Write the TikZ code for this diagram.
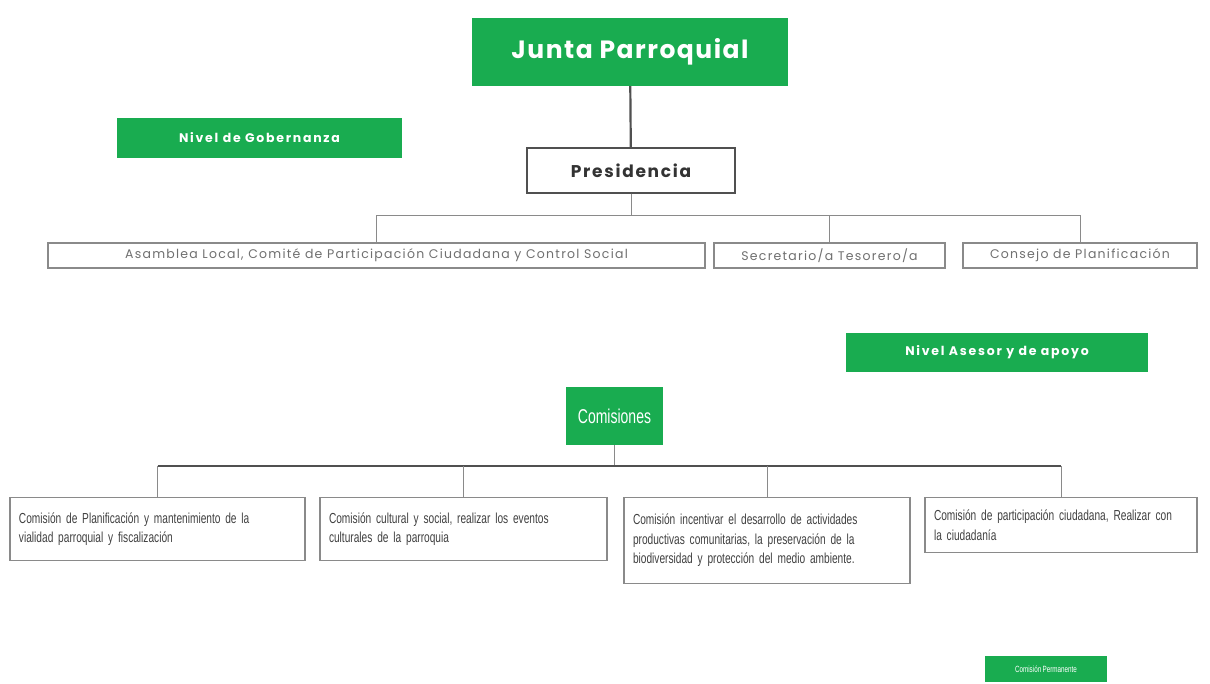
\documentclass[tikz,border=0pt]{standalone}
\usepackage{fontspec}
\setmainfont{Liberation Sans}
\newfontfamily\titlefont[LetterSpace=6]{Poppins}
\newfontfamily\levelfont[LetterSpace=14]{Poppins}
\newfontfamily\govfont[LetterSpace=10]{Poppins}
\newfontfamily\narrowfont[FakeStretch=0.7,WordSpace=0.8]{Liberation Sans}
\usepackage{xcolor}
\definecolor{cGreen}{HTML}{19AC50}
\definecolor{cLine}{HTML}{505050}
\definecolor{cGray}{HTML}{8A8A8A}
\definecolor{cText}{HTML}{707070}
\usetikzlibrary{positioning}
\tikzset{
  x=1pt,y=-1pt,
  node-green/.style={fill=cGreen,draw=none,text=white,align=center,inner sep=0pt},
  node-head/.style={node-green,font=\titlefont\fontsize{25}{30}\selectfont\bfseries},
  node-level/.style={node-green,font=\levelfont\fontsize{12.5}{15}\selectfont\bfseries},
  node-pres/.style={draw=cLine,line width=1.4pt,fill=white,inner sep=0pt,
    font=\govfont\fontsize{17}{20}\selectfont\bfseries,text=black!80},
  node-gov/.style={draw=cGray,line width=1.2pt,fill=white,inner sep=0pt,
    font=\govfont\fontsize{12.5}{15}\selectfont,text=cText},
  node-com/.style={draw=cGray,line width=1.2pt,fill=white,anchor=north,
    align=left,inner xsep=9pt,inner ysep=6pt,
    font={\narrowfont\fontsize{14.5}{19.5}\selectfont\hyphenpenalty=10000\relax},text=black!75},
  link/.style={draw=cLine,line width=2.2pt},
  link-thin/.style={draw=cGray,line width=1pt},
  link-bus/.style={draw=cLine,line width=2.4pt},
}
\begin{document}
\begin{tikzpicture}
  \useasboundingbox (0,0) rectangle (1210,684);
  % nivel de gobernanza
  \node[node-head,minimum width=316,minimum height=68] (junta) at (630,52) {Junta Parroquial};
  \node[node-level,minimum width=285,minimum height=40] (gob) at (259.5,138) {Nivel de Gobernanza};
  \node[node-pres,minimum width=208,minimum height=45] (pres) at (631,170.5) {Presidencia};
  \node[node-gov,minimum width=657,minimum height=25] (asam) at (376.5,255.5) {Asamblea Local, Comité de Participación Ciudadana y Control Social};
  \node[node-gov,minimum width=231,minimum height=25] (secr) at (829.5,255.5) {Secretario/a Tesorero/a};
  \node[node-gov,minimum width=234,minimum height=25] (cons) at (1080,255.5) {Consejo de Planificación};
  \draw[link] (junta) -- (pres);
  \draw[link-thin] (pres.south) -- ++(0,22) -| (asam.north);
  \draw[link-thin] (pres.south) -- ++(0,22) -| (secr.north);
  \draw[link-thin] (pres.south) -- ++(0,22) -| (cons.north);
  % nivel asesor y de apoyo
  \node[node-level,minimum width=302,minimum height=39] (ases) at (997,352.5) {Nivel Asesor y de apoyo};
  \node[node-green,minimum width=97,minimum height=58,font=\narrowfont\fontsize{20}{22}\selectfont] (comis) at (614.5,416) {Comisiones};
  \node[node-com,text width=277,minimum height=63] (ca) at (157.5,497) {Comisión de Planificación y mantenimiento de la\\vialidad parroquial y fiscalización};
  \node[node-com,text width=269,minimum height=63] (cb) at (463.5,497) {Comisión cultural y social, realizar los eventos\\culturales de la parroquia};
  \node[node-com,text width=268,minimum height=86] (cc) at (767,497) {Comisión incentivar el desarrollo de actividades\\productivas comunitarias, la preservación de la\\biodiversidad y protección del medio ambiente.};
  \node[node-com,text width=254,minimum height=55] (cd) at (1061,497) {Comisión de participación ciudadana, Realizar con\\la ciudadanía};
  \draw[link-thin] (comis.south) -- ++(0,21) coordinate (bus);
  \draw[link-bus] (bus -| ca.north) -- (bus -| cd.north);
  \foreach \c in {ca,cb,cc,cd}
    \draw[link-thin] (bus -| \c.north) -- (\c.north);
  \node[node-green,minimum width=122,minimum height=26,font=\narrowfont\fontsize{9}{10}\selectfont] (perm) at (1046,669) {Comisión Permanente};
\end{tikzpicture}
\end{document}
